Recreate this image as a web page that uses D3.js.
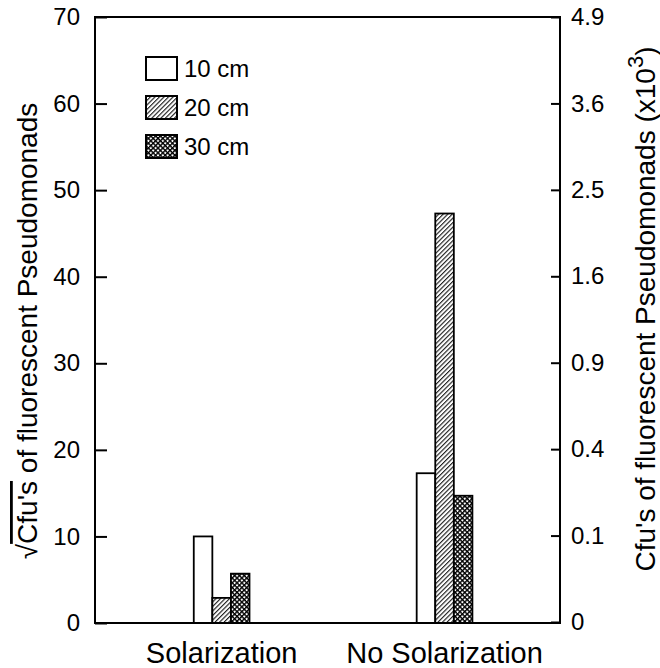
<!DOCTYPE html>
<html>
<head>
<meta charset="utf-8">
<script src="https://cdn.jsdelivr.net/npm/d3@7"></script>
<style>
    body { margin: 0; background: #fff; }
    text { font-family: "Liberation Sans", Arial, Helvetica, sans-serif; fill: #000; }
</style>
</head>
<body>
<script>
'use strict';

// data
const treatments = ["Solarization", "No Solarization"];
const depths = ["10 cm", "20 cm", "30 cm"];
const sqrtCfu10 = [10, 17.3];
const sqrtCfu20 = [2.9, 47.3];
const sqrtCfu30 = [5.7, 14.7];
const leftTicks = [0, 10, 20, 30, 40, 50, 60, 70];
const rightTicks = [0, 0.1, 0.4, 0.9, 1.6, 2.5, 3.6, 4.9];

(function() {
    const measurements = {
        width: 660,
        height: 668,
        left: 95,
        right: 560,
        top: 17,
        bottom: 623
    };

    const fills = ["#fff", "url(#hatch)", "url(#cross)"];

    const rows = treatments.map((t, i) => ({
        treatment: t,
        values: [sqrtCfu10[i], sqrtCfu20[i], sqrtCfu30[i]]
    }));

    const svg = d3.select('body')
        .append('svg')
        .attr('width', measurements.width)
        .attr('height', measurements.height);

    // fill patterns
    const defs = svg.append('defs');
    defs.append('pattern')
        .attr('id', 'hatch')
        .attr('patternUnits', 'userSpaceOnUse')
        .attr('width', 3.2)
        .attr('height', 3.2)
        .attr('patternTransform', 'rotate(45)')
        .call(p => {
            p.append('rect').attr('width', 3.2).attr('height', 3.2).attr('fill', '#fff');
            p.append('line').attr('x1', 0.6).attr('y1', 0).attr('x2', 0.6).attr('y2', 3.2)
                .attr('stroke', '#000').attr('stroke-width', 1);
        });

    defs.append('pattern')
        .attr('id', 'cross')
        .attr('patternUnits', 'userSpaceOnUse')
        .attr('width', 3.4)
        .attr('height', 3.4)
        .attr('patternTransform', 'rotate(45)')
        .call(p => {
            p.append('rect').attr('width', 3.4).attr('height', 3.4).attr('fill', '#fff');
            p.append('rect').attr('x', 0).attr('y', 0).attr('width', 1.4).attr('height', 3.4).attr('fill', '#000');
            p.append('rect').attr('x', 0).attr('y', 0).attr('width', 3.4).attr('height', 1.4).attr('fill', '#000');
        });

    // scales
    const x = d3.scaleBand()
        .domain(treatments)
        .range([measurements.left, measurements.right])
        .paddingInner(0.75)
        .paddingOuter(0.418)
        .align(0.53);

    const xInner = d3.scaleBand()
        .domain(depths)
        .range([0, x.bandwidth()]);

    const y = d3.scaleLinear()
        .domain([0, 70])
        .range([measurements.bottom, measurements.top]);

    const yRight = d3.scaleSqrt()
        .domain([0, 4.9])
        .range([measurements.bottom - 1, measurements.top]);

    // bars
    const groups = svg.selectAll('.group')
        .data(rows)
        .enter()
        .append('g')
        .attr('class', 'group')
        .attr('transform', d => 'translate(' + x(d.treatment) + ',0)');

    groups.selectAll('rect')
        .data(d => d.values.map((v, i) => ({depth: depths[i], value: v, idx: i})))
        .enter()
        .append('rect')
        .attr('x', d => xInner(d.depth))
        .attr('y', d => y(d.value))
        .attr('width', xInner.bandwidth())
        .attr('height', d => y(0) - y(d.value))
        .attr('fill', d => fills[d.idx])
        .attr('stroke', '#000')
        .attr('stroke-width', 1.8);

    // left axis
    const yAxis = d3.axisLeft(y)
        .tickValues(leftTicks)
        .tickSize(-12)
        .tickPadding(15)
        .tickFormat(d3.format('d'));
    svg.append('g')
        .attr('transform', 'translate(' + measurements.left + ',0)')
        .call(yAxis)
        .call(g => g.select('.domain').remove())
        .call(g => g.selectAll('line').attr('stroke-width', 2))
        .call(g => g.selectAll('text').style('font-size', '24px'));

    // right axis
    const yAxisRight = d3.axisRight(yRight)
        .tickValues(rightTicks)
        .tickSize(-9)
        .tickPadding(11)
        .tickFormat(d => d === 0 ? '0' : d3.format('.1f')(d));
    svg.append('g')
        .attr('transform', 'translate(' + measurements.right + ',0)')
        .call(yAxisRight)
        .call(g => g.select('.domain').remove())
        .call(g => g.selectAll('line').attr('stroke-width', 2))
        .call(g => g.selectAll('text').style('font-size', '24px'));

    // frame
    svg.append('rect')
        .attr('x', measurements.left)
        .attr('y', measurements.top)
        .attr('width', measurements.right - measurements.left)
        .attr('height', measurements.bottom - measurements.top)
        .attr('fill', 'none')
        .attr('stroke', '#000')
        .attr('stroke-width', 2);

    // category labels
    svg.selectAll('.cat')
        .data(treatments)
        .enter()
        .append('text')
        .attr('class', 'cat')
        .attr('x', d => x(d) + x.bandwidth() / 2)
        .attr('y', 663)
        .attr('text-anchor', 'middle')
        .style('font-size', '29px')
        .text(d => d);

    // legend
    const legend = svg.append('g').attr('transform', 'translate(146, 57)');
    depths.forEach((d, i) => {
        const row = legend.append('g').attr('transform', 'translate(0,' + (i * 39) + ')');
        row.append('rect')
            .attr('width', 31)
            .attr('height', 23)
            .attr('fill', fills[i])
            .attr('stroke', '#000')
            .attr('stroke-width', 2);
        row.append('text')
            .attr('x', 38)
            .attr('y', 20)
            .style('font-size', '24px')
            .text(d);
    });

    // left title with radical sign
    const leftTitle = svg.append('text')
        .attr('transform', 'translate(37, 331) rotate(-90)')
        .attr('text-anchor', 'middle')
        .style('font-size', '28px');
    leftTitle.append('tspan').text('\u221A');
    leftTitle.append('tspan').style('text-decoration', 'overline').text("Cfu's");
    leftTitle.append('tspan').text(' of fluorescent Pseudomonads');

    // right title
    const rightTitle = svg.append('text')
        .attr('transform', 'translate(655, 309) rotate(-90)')
        .attr('text-anchor', 'middle')
        .style('font-size', '28px');
    rightTitle.append('tspan').text("Cfu's of fluorescent Pseudomonads (x10");
    rightTitle.append('tspan').attr('dy', -12).style('font-size', '22px').text('3');
    rightTitle.append('tspan').attr('dy', 12).text(')');
})();
</script>
</body>
</html>
